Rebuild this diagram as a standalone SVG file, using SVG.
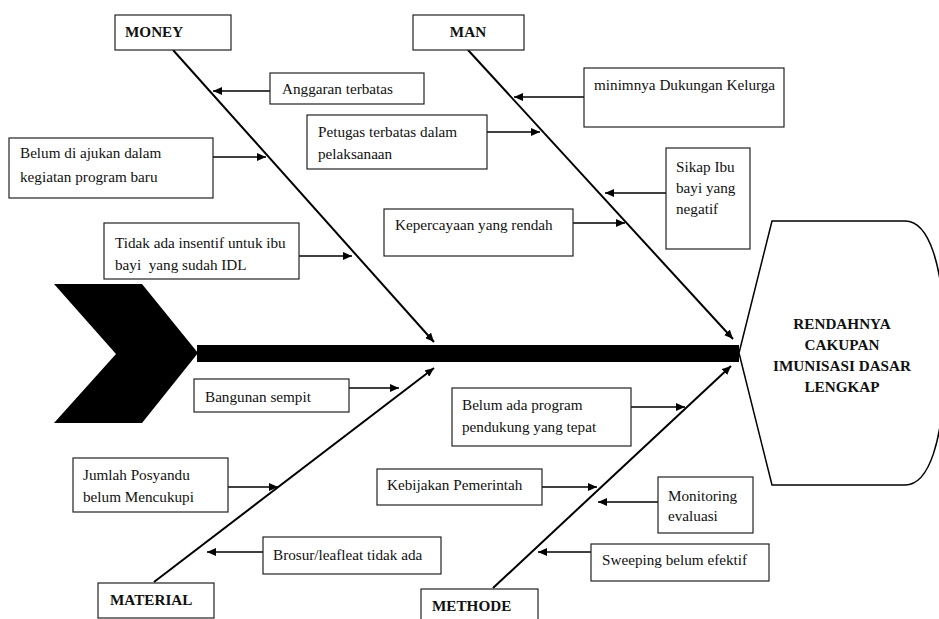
<svg xmlns="http://www.w3.org/2000/svg" width="939" height="619" viewBox="0 0 939 619">
<style>
.box{fill:#fff;stroke:#222;stroke-width:1.2}
.t{font-family:"Liberation Serif","Times New Roman",serif;font-size:15.2px;fill:#111}
.b{font-weight:bold}
.bone{stroke:#000;stroke-width:2;fill:none;marker-end:url(#ah)}
.arr{stroke:#000;stroke-width:1.5;fill:none;marker-end:url(#ah)}
</style>
<defs>
<marker id="ah" markerUnits="userSpaceOnUse" markerWidth="9" markerHeight="8" refX="9" refY="4" orient="auto">
<path d="M0,0 L9,4 L0,8 Z" fill="#000"/>
</marker>
</defs>
<rect width="939" height="619" fill="#fff"/>

<g id="spine">
<polygon points="54,284 142,284 198,353 142,423 54,423 116,354" fill="#000"/>
<rect x="197" y="345" width="542" height="17" fill="#000"/>
</g>

<g id="head">
<path d="M739,353 L772,221 L905,221 C928,221 945,262 945,353 C945,444 928,485 905,485 L772,485 Z" fill="#fff" stroke="#000" stroke-width="1.5"/>
<text class="t b" text-anchor="middle" x="842" y="329">RENDAHNYA</text>
<text class="t b" text-anchor="middle" x="842" y="350">CAKUPAN</text>
<text class="t b" text-anchor="middle" x="842" y="371">IMUNISASI DASAR</text>
<text class="t b" text-anchor="middle" x="842" y="392">LENGKAP</text>
</g>

<g id="connectors">
<line class="bone" x1="173" y1="50" x2="434" y2="342"/>
<line class="bone" x1="468" y1="50" x2="733" y2="339"/>
<line class="bone" x1="154" y1="582" x2="434" y2="368"/>
<line class="bone" x1="493" y1="588" x2="731" y2="366"/>
<line class="arr" x1="270" y1="91" x2="213" y2="91"/>
<line class="arr" x1="213" y1="157" x2="266" y2="157"/>
<line class="arr" x1="299" y1="256" x2="352" y2="256"/>
<line class="arr" x1="584" y1="97" x2="514" y2="97"/>
<line class="arr" x1="487" y1="132" x2="540" y2="132"/>
<line class="arr" x1="666" y1="193" x2="605" y2="193"/>
<line class="arr" x1="573" y1="223" x2="625" y2="223"/>
<line class="arr" x1="349" y1="388" x2="399" y2="388"/>
<line class="arr" x1="228" y1="487" x2="278" y2="487"/>
<line class="arr" x1="263" y1="552" x2="207" y2="552"/>
<line class="arr" x1="631" y1="407" x2="685" y2="407"/>
<line class="arr" x1="542" y1="487" x2="597" y2="487"/>
<line class="arr" x1="658" y1="502" x2="598" y2="502"/>
<line class="arr" x1="591" y1="552" x2="538" y2="552"/>
</g>

<g id="money">
<rect class="box" x="115" y="15" width="116" height="35"/>
<text class="t b" x="125" y="37">MONEY</text>
</g>
<g id="man">
<rect class="box" x="413" y="15" width="111" height="35"/>
<text class="t b" x="468" y="37" text-anchor="middle">MAN</text>
</g>
<g id="material">
<rect class="box" x="98" y="583" width="116" height="35"/>
<text class="t b" x="110" y="605">MATERIAL</text>
</g>
<g id="methode">
<rect class="box" x="421" y="589" width="117" height="35"/>
<text class="t b" x="432" y="611">METHODE</text>
</g>

<g id="anggaran">
<rect class="box" x="270" y="73" width="154" height="31"/>
<text class="t" x="282" y="94">Anggaran terbatas</text>
</g>
<g id="belum-diajukan">
<rect class="box" x="9" y="138" width="204" height="60"/>
<text class="t" x="20" y="158">Belum di ajukan dalam</text>
<text class="t" x="20" y="182">kegiatan program baru</text>
</g>
<g id="tidak-ada-insentif">
<rect class="box" x="104" y="223" width="195" height="56"/>
<text class="t" x="115" y="248">Tidak ada insentif untuk ibu</text>
<text class="t" x="115" y="270" xml:space="preserve">bayi  yang sudah IDL</text>
</g>
<g id="minimnya">
<rect class="box" x="584" y="68" width="200" height="59"/>
<text class="t" x="594" y="90">minimnya Dukungan Kelurga</text>
</g>
<g id="petugas">
<rect class="box" x="307" y="115" width="180" height="54"/>
<text class="t" x="318" y="137">Petugas terbatas dalam</text>
<text class="t" x="318" y="159">pelaksanaan</text>
</g>
<g id="sikap">
<rect class="box" x="666" y="148" width="84" height="101"/>
<text class="t" x="676" y="172">Sikap Ibu</text>
<text class="t" x="676" y="193">bayi yang</text>
<text class="t" x="676" y="214">negatif</text>
</g>
<g id="kepercayaan">
<rect class="box" x="384" y="209" width="189" height="47"/>
<text class="t" x="395" y="230">Kepercayaan yang rendah</text>
</g>
<g id="bangunan">
<rect class="box" x="194" y="379" width="155" height="33"/>
<text class="t" x="205" y="402">Bangunan sempit</text>
</g>
<g id="jumlah-posyandu">
<rect class="box" x="73" y="458" width="155" height="54"/>
<text class="t" x="83" y="480">Jumlah Posyandu</text>
<text class="t" x="83" y="502">belum Mencukupi</text>
</g>
<g id="brosur">
<rect class="box" x="263" y="537" width="178" height="37"/>
<text class="t" x="273" y="560">Brosur/leafleat tidak ada</text>
</g>
<g id="belum-ada-program">
<rect class="box" x="452" y="388" width="179" height="58"/>
<text class="t" x="462" y="410">Belum ada program</text>
<text class="t" x="462" y="432">pendukung yang tepat</text>
</g>
<g id="kebijakan">
<rect class="box" x="377" y="469" width="165" height="36"/>
<text class="t" x="387" y="490">Kebijakan Pemerintah</text>
</g>
<g id="monitoring">
<rect class="box" x="658" y="477" width="95" height="56"/>
<text class="t" x="668" y="501">Monitoring</text>
<text class="t" x="668" y="521">evaluasi</text>
</g>
<g id="sweeping">
<rect class="box" x="591" y="544" width="178" height="37"/>
<text class="t" x="602" y="565">Sweeping belum efektif</text>
</g>
</svg>
